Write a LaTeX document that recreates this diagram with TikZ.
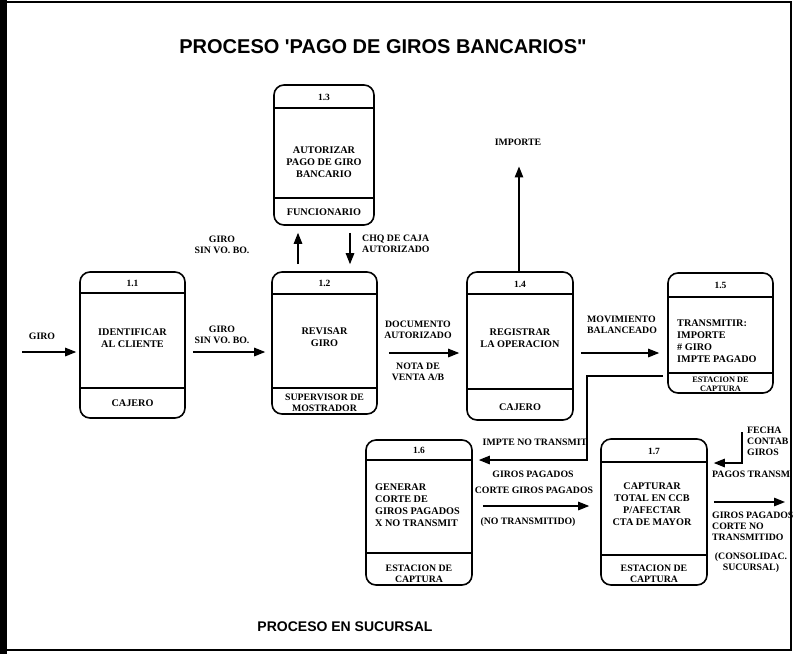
\documentclass[tikz,border=0pt]{standalone}
\usepackage{fontspec}
\setmainfont{Liberation Serif}
\newfontfamily\titlefont{Liberation Sans}
\usetikzlibrary{arrows.meta}
\newcommand\procbox[7]{%
  \node[box, minimum width={#4-#2}, minimum height={#5-#3}] (#1) at ({(#2+#4)/2},{(#3+#5)/2}) {};
  \draw[div] (#1.west |- 0,#6) -- (#1.east |- 0,#6);
  \draw[div] (#1.west |- 0,#7) -- (#1.east |- 0,#7);
}
\begin{document}
\begin{tikzpicture}[x=1pt,y=-1pt,
  box/.style={draw, line width=1.6pt, rounded corners=10pt, inner sep=0pt},
  div/.style={line width=1.3pt},
  arr/.style={line width=1.3pt, -{Triangle[length=11pt,width=8.5pt]}},
  lbl/.style={font=\fontsize{9.8}{10.8}\selectfont\bfseries, align=center, inner sep=0pt},
  lbll/.style={lbl, align=left},
  txt/.style={font=\fontsize{10.2}{12.2}\selectfont\bfseries, align=center, inner sep=0pt},
  txtl/.style={txt, align=left},
  small/.style={font=\fontsize{8.3}{9.3}\selectfont\bfseries, align=center, inner sep=0pt},
  sub/.style={font=\fontsize{9.8}{10.8}\selectfont\bfseries, align=center, inner sep=0pt},
  num/.style={font=\fontsize{9.5}{10}\selectfont\bfseries, inner sep=0pt},
]
\useasboundingbox (0,0) rectangle (794,654);
% frame
\draw[line width=2pt] (2,2) rectangle (791,650);
\fill (0,0) rectangle (7,654);
% titles
\node[font=\titlefont\fontsize{20}{24}\selectfont\bfseries] (title) at (383,47) {PROCESO 'PAGO DE GIROS BANCARIOS"};
\node[font=\titlefont\fontsize{14}{16}\selectfont\bfseries] (foot) at (345,627) {PROCESO EN SUCURSAL};
% boxes
\procbox{b11}{80}{272}{185}{418}{293}{388}
\procbox{b12}{272}{272}{377}{414}{294}{388}
\procbox{b13}{274}{85}{374}{225}{108}{198}
\procbox{b14}{467}{272}{573}{420}{294}{389}
\procbox{b15}{668}{273}{773}{393}{297}{373}
\procbox{b16}{366}{440}{472}{585}{460}{553}
\procbox{b17}{601}{439}{707}{585}{462}{555}
% box texts
\node[num] (n11) at (132.5,283) {1.1};
\node[txt] (t11) at (132.5,338) {IDENTIFICAR\\AL CLIENTE};
\node[txt] (s11) at (132.5,403) {CAJERO};
\node[num] (n12) at (324.5,283) {1.2};
\node[txt] (t12) at (324.5,337) {REVISAR\\GIRO};
\node[sub] (s12) at (324.5,403) {SUPERVISOR DE\\MOSTRADOR};
\node[num] (n13) at (324,97) {1.3};
\node[txt] (t13) at (324,162) {AUTORIZAR\\PAGO DE GIRO\\BANCARIO};
\node[txt] (s13) at (324,212) {FUNCIONARIO};
\node[num] (n14) at (520,284) {1.4};
\node[txt] (t14) at (520,338) {REGISTRAR\\LA OPERACION};
\node[txt] (s14) at (520,407) {CAJERO};
\node[num] (n15) at (720.5,285) {1.5};
\node[txtl, anchor=west] (t15) at (677,341) {TRANSMITIR:\\IMPORTE\\\# GIRO\\IMPTE PAGADO};
\node[small] (s15) at (720.5,384) {ESTACION DE\\CAPTURA};
\node[num] (n16) at (419,450) {1.6};
\node[txtl, anchor=west] (t16) at (375,505) {GENERAR\\CORTE DE\\GIROS PAGADOS\\X NO TRANSMIT};
\node[sub] (s16) at (419,574) {ESTACION DE\\CAPTURA};
\node[num] (n17) at (654,451) {1.7};
\node[txt] (t17) at (652,504) {CAPTURAR\\TOTAL EN CCB\\P/AFECTAR\\CTA DE MAYOR};
\node[sub] (s17) at (654,574) {ESTACION DE\\CAPTURA};
% input GIRO
\coordinate (gin) at (22,352);
\draw[arr, shorten >=3pt] (gin) -- (gin -| b11.west);
\node[lbl] (lgiro) at (42,336) {GIRO};
% 1.1 -> 1.2
\path ([yshift=-7pt]b11.east) coordinate (p12);
\draw[arr, shorten <=7pt, shorten >=6pt] (p12) -- (p12 -| b12.west);
\node[lbl] (l12) at (222,335) {GIRO\\SIN VO. BO.};
% 1.2 <-> 1.3
\draw[arr, shorten <=7pt, shorten >=7pt] (b12.north -| 298,0) -- (b13.south -| 298,0);
\draw[arr, shorten <=7pt, shorten >=7pt] (b13.south -| 350,0) -- (b12.north -| 350,0);
\node[lbl] (l23a) at (222,245) {GIRO\\SIN VO. BO.};
\node[lbll, anchor=west] (l23b) at (362,244) {CHQ DE CAJA\\AUTORIZADO};
% 1.2 -> 1.4
\path ([yshift=-10pt]b12.east) coordinate (p24);
\draw[arr, shorten <=11pt, shorten >=7pt] (p24) -- (p24 -| b14.west);
\node[lbl] (l24a) at (418,330) {DOCUMENTO\\AUTORIZADO};
\node[lbl] (l24b) at (418,372) {NOTA DE\\VENTA A/B};
% 1.4 -> IMPORTE
\node[lbl] (imp) at (518,142) {IMPORTE};
\draw[arr, shorten >=21pt] (b14.north -| 519,0) -- (imp.south -| 519,0);
% 1.4 -> 1.5
\path ([yshift=-7pt]b14.east) coordinate (p45);
\draw[arr, shorten <=7pt, shorten >=8pt] (p45) -- (p45 -| b15.west);
\node[lbll, anchor=west] (l45) at (587,325) {MOVIMIENTO\\BALANCEADO};
% 1.5 -> 1.6
\coordinate (c56) at (587,460);
\draw[arr, shorten <=4pt, shorten >=6pt] ([yshift=-43pt]b15.west) -| (c56) -- (c56 -| b16.east);
\node[lbl] (l56a) at (535,442) {IMPTE NO TRANSMIT};
\node[lbl] (l56b) at (533,474) {GIROS PAGADOS};
% 1.6 -> 1.7
\path ([yshift=6.5pt]b16.east) coordinate (p67);
\draw[arr, shorten <=10pt, shorten >=11pt] (p67) -- (p67 -| b17.west);
\node[lbl] (l67a) at (534,490) {CORTE GIROS PAGADOS};
\node[lbl] (l67b) at (528,522) {(NO TRANSMITIDO)};
% FECHA -> 1.7
\coordinate (f1) at (742,432);
\draw[arr, shorten >=6pt] (f1) |- (b17.east |- 0,463);
\node[lbll, anchor=north west] (lf) at (747,427) {FECHA\\CONTAB\\GIROS};
\node[lbl, anchor=west] (lf2) at (712,474) {PAGOS TRANSM};
% 1.7 -> out
\coordinate (out17) at (785,502);
\draw[arr, shorten <=6pt] (b17.east |- out17) -- (out17);
\node[lbll, anchor=west] (lo1) at (712,526) {GIROS PAGADOS\\CORTE NO\\TRANSMITIDO};
\node[lbl] (lo2) at (751,563) {(CONSOLIDAC.\\SUCURSAL)};
\end{tikzpicture}
\end{document}
